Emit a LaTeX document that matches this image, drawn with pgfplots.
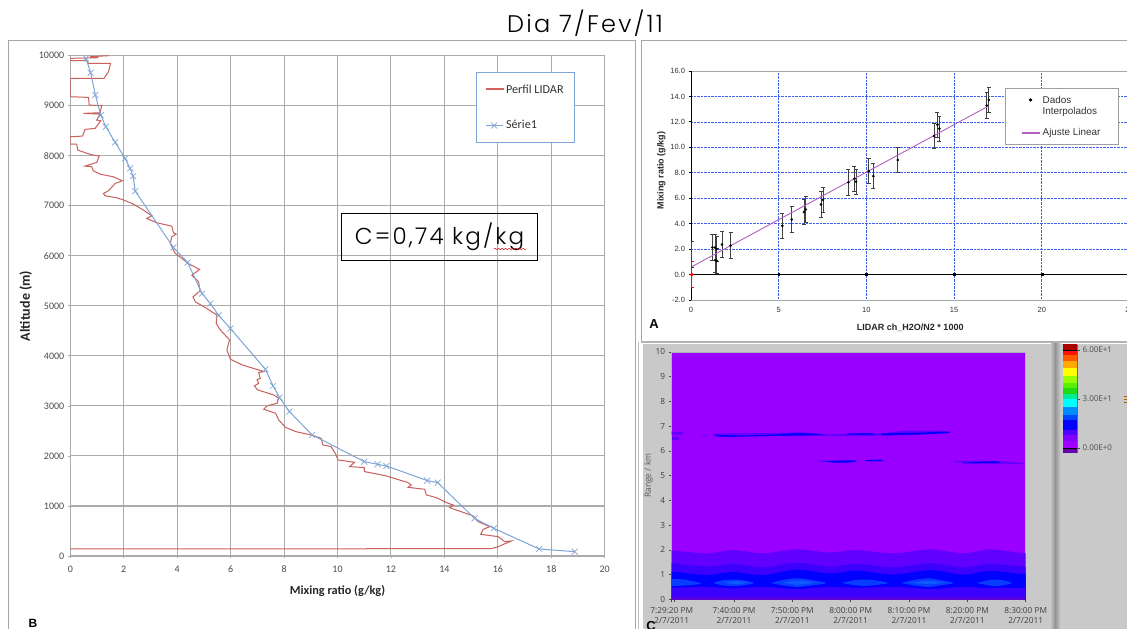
\documentclass[border=0pt]{standalone}
\usepackage{fontspec}
\usepackage{pgfplots}
\pgfplotsset{compat=1.18}
\usetikzlibrary{decorations.pathmorphing}
\setmainfont{Carlito}
\newfontfamily\poppinsf{Poppins}[UprightFont=* Light,LetterSpace=9.5]
\newfontfamily\libf{Liberation Sans}
\newfontfamily\openf{Open Sans}
\definecolor{gridB}{HTML}{ABABAB}
\definecolor{redL}{HTML}{C8605C}
\definecolor{legR}{HTML}{D8605C}
\definecolor{blueL}{HTML}{7FA5D6}
\definecolor{bgC}{HTML}{C9C9C9}
\definecolor{pv}{HTML}{9900FF}
\definecolor{pa}{HTML}{6200FF}
\definecolor{pb}{HTML}{3C00FF}
\definecolor{pc}{HTML}{0000FF}
\definecolor{pd}{HTML}{0A3CFF}
\definecolor{pe}{HTML}{0F5AFF}
\definecolor{pf}{HTML}{5A00D8}
\definecolor{gridA}{HTML}{3F62F0}
\definecolor{fitL}{HTML}{B060C0}
\pgfplotsset{every axis/.append style={scale only axis,anchor=south west}}
\begin{document}
\begin{tikzpicture}[x=1pt,y=1pt]
\clip (0,0) rectangle (1127,629);
\fill[white] (0,0) rectangle (1127,629);
% frames
\draw[gray!70,line width=1pt] (8,0) -- (8,588) -- (635,588) -- (635,0);
\draw[gray!70,line width=1pt] (641,287) -- (641,588) -- (1127,588);
\draw[gray!50,line width=1pt] (638,0) -- (638,287);
\draw[gray!60,line width=1.2pt] (641,287) -- (1127,287);
\fill[bgC] (643,0) rectangle (1127,285);
\shade[left color=gray!50,right color=gray!85] (1051,0) rectangle (1055,285);
\shade[left color=gray!85,right color=gray!40] (1055,0) rectangle (1060.7,285);
\draw[orange!70!black,line width=.6pt] (1124,233) -- (1127,233) (1124,230) -- (1127,230) (1124,227) -- (1127,227);
\node[font=\poppinsf\fontsize{24}{28}\selectfont,anchor=center] at (585,606) {Dia 7/Fev/11};

% PANEL B
\begin{axis}[at={(70.3pt,73pt)},width=534.4pt,height=500.3pt,
  xmin=0,xmax=20,ymin=0,ymax=10000,
  xtick={0,2,...,20},ytick={0,1000,...,10000},
  scaled y ticks=false,
  grid=major,grid style={gridB,line width=1.1pt},
  axis line style={gridB,line width=1.1pt},
  tick style={gridB,line width=.8pt},tick align=outside,tick pos=left,
  major tick length=2.5,
  tick label style={font=\fontsize{10}{12}\selectfont,text=black!70},
  xticklabel style={yshift=-4pt},
  /pgf/number format/assume math mode=true,
  /pgf/number format/1000 sep={},
  xlabel={\bfseries Mixing ratio (g/kg)},ylabel={\bfseries Altitude (m)},
  xlabel style={font=\fontsize{12.3}{14}\selectfont,text=black!85,yshift=-6pt},
  ylabel style={font=\fontsize{14}{16}\selectfont,text=black!85,yshift=0pt},
  legend style={at={(axis cs:15.17,9670)},anchor=north west,draw=blueL,line width=.8pt,
    font=\fontsize{12.2}{14}\selectfont,text=black!80,row sep=22pt,inner xsep=9pt,inner ysep=10pt},
  legend cell align=left]
\addplot[redL,line width=1pt,legend image code/.code={\path (0pt,0pt) -- (18pt,0pt);}] coordinates {
(1.43,10000)(0.74,9980)(1.05,9960)(0,9947)(0,9900)(0.61,9900)(0.68,9847)(1.51,9847)(1.43,9680)(1.26,9547)(0,9547)(0,9180)(0.68,9167)(0.71,9013)(1.18,9000)(1.11,8860)(0.49,8847)(1.11,8833)(0.99,8713)(1.14,8700)(0.93,8547)(0.55,8527)(0.46,8393)(0,8380)(0,8233)(0.24,8233)(0.28,8113)(0.74,8027)(1.08,7993)(0.99,7867)(0.55,7793)(0.8,7780)(0.86,7700)(1.11,7633)(1.61,7580)(1.95,7500)(1.68,7447)(1.43,7300)(1.24,7247)(1.3,7200)(1.74,7160)(2.01,7113)(2.36,7033)(2.74,6913)(3.05,6800)(2.86,6747)(3.24,6660)(3.8,6593)(3.86,6460)(3.96,6433)(3.8,6380)(3.74,6247)(3.93,6047)(4.21,5933)(4.46,5833)(4.84,5727)(4.55,5613)(4.8,5480)(4.86,5300)(4.59,5180)(4.68,5080)(5.11,4947)(5.49,4813)(5.46,4647)(5.61,4520)(5.96,4320)(5.86,4120)(5.99,3933)(6.43,3820)(7.24,3687)(7.05,3667)(7.11,3553)(6.99,3520)(7.05,3453)(6.89,3400)(7.01,3320)(7.61,3220)(7.8,3153)(7.74,3053)(7.36,3000)(7.24,2933)(7.68,2853)(7.8,2720)(8.05,2573)(8.43,2487)(9.01,2420)(9.39,2353)(9.45,2220)(9.76,2187)(9.95,2020)(10.01,1920)(10.64,1873)(10.45,1787)(11.0,1767)(11.01,1687)(11.83,1600)(12.64,1467)(12.76,1420)(12.64,1373)(13.26,1333)(13.33,1220)(13.7,1167)(14.14,1053)(14.33,1020)(14.2,967)(15.08,800)(15.26,687)(15.7,587)(15.45,533)(15.36,433)(16.01,387)(16.26,287)(16.51,300)(16.01,187)(15.76,147)(0,140)};
\addlegendentry{Perfil LIDAR}
\addplot[blueL,line width=1pt,mark=x,mark size=4.2pt,mark options={line width=.7pt}] coordinates {
(0.59,9947)(0.76,9660)(0.94,9213)(1.14,8813)(1.33,8580)(1.68,8267)(2.05,7947)(2.24,7747)(2.35,7593)(2.43,7293)(3.86,6167)(4.39,5867)(4.93,5247)(5.24,5047)(5.55,4813)(5.99,4547)(7.3,3733)(7.59,3400)(7.83,3167)(8.2,2887)(9.05,2420)(11.0,1887)(11.5,1833)(11.83,1800)(13.36,1507)(13.75,1467)(15.13,753)(15.85,553)(17.55,140)(18.88,87)};
\addlegendentry{Série1}
\end{axis}
\draw[legR,line width=1.3pt] (485.5,540) -- (503.5,540);
\node[font=\libf\bfseries\fontsize{12}{14}\selectfont] at (33,6) {B};
\draw[black,line width=.8pt] (341.3,369) rectangle (537.7,415.7);
\node[font=\poppinsf\fontsize{23}{26}\selectfont,anchor=center] at (439.5,392) {C=0,74 kg/kg};
\draw[red!80!black,line width=.5pt,decorate,decoration={snake,amplitude=.7pt,segment length=3.5pt}] (494,380) -- (526,380);

% PANEL A
\begin{axis}[at={(691pt,329pt)},width=438.5pt,height=229pt,
  xmin=0,xmax=25,ymin=-2,ymax=16,
  xtick={0,5,...,25},ytick={-2,0,...,16},
  grid=major,grid style={densely dotted,color=gridA,line width=.7pt},
  axis line style={gray!70,line width=.8pt},
  xtick style={draw=none},ytick style={black,line width=.8pt},
  tick align=outside,tick pos=left,major tick length=2.5,
  tick label style={font=\libf\fontsize{7.5}{9}\selectfont,text=black!80},
  /pgf/number format/assume math mode=true,
  yticklabel style={/pgf/number format/fixed,/pgf/number format/fixed zerofill,/pgf/number format/precision=1},
  xticklabel style={yshift=-1pt},
  xlabel={\bfseries LIDAR ch\_H2O/N2 * 1000},ylabel={\bfseries Mixing ratio (g/kg)},
  xlabel style={font=\libf\fontsize{9}{10}\selectfont,text=black!85,yshift=-5pt},
  ylabel style={font=\libf\fontsize{9}{10}\selectfont,text=black!85,yshift=-2pt,xshift=15pt},
  legend style={at={(axis cs:17.9,14.69)},anchor=north west,draw=gray!75,line width=1pt,
    font=\libf\fontsize{9.9}{11.5}\selectfont,text=black!80,row sep=20pt,inner xsep=16pt,inner ysep=5pt,fill=white},
  legend cell align=left]
\draw[black,line width=1.1pt] (axis cs:0,-2) -- (axis cs:0,16);
\draw[black,line width=1.1pt] (axis cs:0,0) -- (axis cs:25,0);
\addplot[only marks,mark=*,mark size=1.1pt,black,
  error bars/.cd,y dir=both,y fixed=1.0,
  error bar style={black!75,line width=.8pt},
  error mark options={rotate=90,mark size=2pt,black!75,line width=.8pt}] coordinates {
(1.22,2.13)(1.37,2.13)(1.46,2.0)(1.39,1.13)(1.46,1.08)(1.77,2.36)(2.26,2.28)(5.21,3.83)(5.74,4.33)(6.44,4.91)(6.54,5.12)(7.41,5.51)(7.53,5.88)(8.97,7.24)(9.32,7.53)(9.41,7.3)(10.13,8.14)(10.4,7.74)(11.79,9.0)(13.86,10.89)(14.05,11.78)(14.16,11.47)(16.86,13.28)(16.98,13.73)};
\addlegendentry{\begin{tabular}[t]{@{}l@{}}Dados\\Interpolados\end{tabular}}
\addplot[fitL,line width=.9pt,legend image code/.code={\draw[fitL,line width=1.2pt] (0pt,0pt) -- (18pt,0pt);}] coordinates {(0.05,0.62)(16.9,13.2)};
\addlegendentry{Ajuste Linear}
\addplot[forget plot,draw=none,mark=*,mark size=0pt,
  error bars/.cd,y dir=both,y fixed=1.0,
  error bar style={black!75,line width=.8pt},
  error mark options={rotate=90,mark size=2pt,black!75,line width=.8pt}] coordinates {(0.05,1.6)};
\addplot[forget plot,only marks,mark=*,mark size=1.6pt,red,
  error bars/.cd,y dir=both,y fixed=1.0,
  error bar style={red,line width=.8pt},
  error mark options={rotate=90,mark size=2pt,red,line width=.8pt}] coordinates {(0.05,0)};
\addplot[forget plot,only marks,mark=square*,mark size=.9pt,black] coordinates {(5,0)(10,0)(15,0)(20,0)};
\end{axis}
\node[font=\libf\bfseries\fontsize{13}{15}\selectfont] at (654,305) {A};

% PANEL C
\begin{axis}[at={(671.7pt,29.7pt)},width=354pt,height=247.3pt,
  xmin=0,xmax=60.67,ymin=0,ymax=10,
  axis background/.style={fill=pv},
  xtick={0,0.4,10.67,20.67,30.67,40.67,50.67,60.67},
  xticklabels={{7:29:20 PM\\2/7/2011},{},{7:40:00 PM\\2/7/2011},{7:50:00 PM\\2/7/2011},{8:00:00 PM\\2/7/2011},{8:10:00 PM\\2/7/2011},{8:20:00 PM\\2/7/2011},{8:30:00 PM\\2/7/2011}},
  xticklabel style={align=center,font=\openf\fontsize{8.3}{10}\selectfont,text=black!75,yshift=-2pt},
  ytick={0,1,...,10},
  yticklabel style={font=\openf\fontsize{8.3}{10}\selectfont,text=black!75},
  /pgf/number format/assume math mode=true,
  tick style={black!70,line width=.6pt},tick align=outside,tick pos=left,major tick length=3,
  axis line style={gray!60,line width=.5pt},
  ylabel={Range / km},
  ylabel style={font=\openf\fontsize{8.5}{10}\selectfont,text=black!65,yshift=-4pt},
  xlabel={Time},xlabel style={font=\openf\fontsize{7.5}{9}\selectfont,text=black!65,yshift=-6pt},
  ]
\addplot[fill=pa,draw=none,smooth] coordinates {(-4,-2)(-4,1.95)(0,1.97)(6,1.86)(10.57,1.99)(15.71,1.86)(21.43,2.02)(27.14,1.89)(31.71,1.99)(38,1.86)(44.29,2.02)(50,1.86)(54.57,2.02)(60.67,1.86)(65,1.9)(65,-2)} --cycle;
\addplot[fill=pb,draw=none,smooth] coordinates {(-4,-2)(-4,1.45)(0,1.46)(6,1.32)(10.57,1.43)(15.71,1.29)(21.43,1.48)(27.14,1.32)(31.71,1.43)(38,1.29)(44.29,1.46)(50,1.29)(54.57,1.43)(60.67,1.32)(65,1.35)(65,-2)} --cycle;
\addplot[fill=pc,draw=none,smooth] coordinates {(-4,-2)(-4,1.12)(0,1.12)(6,0.98)(10.57,1.1)(15.71,0.98)(21.43,1.2)(27.14,1.04)(31.71,1.16)(38,1.0)(44.29,1.18)(50,1.0)(54.57,1.15)(60.67,1.02)(65,1.05)(65,-2)} --cycle;
\addplot[fill=pb,draw=none,smooth] coordinates {(-4,-2)(-4,0.47)(0,0.47)(6,0.5)(10.57,0.44)(15.71,0.5)(21.43,0.42)(27.14,0.5)(31.71,0.46)(38,0.5)(44.29,0.42)(50,0.5)(54.57,0.45)(60.67,0.47)(65,0.47)(65,-2)} --cycle;
\addplot[fill=pf,draw=none] coordinates {(-4,-1)(-4,0.09)(65,0.09)(65,-1)} --cycle;
% bright lenses near 0.7 km
\addplot[fill=pd,draw=none,smooth] coordinates {(-1,0.82)(2,0.8)(5,0.64)(2,0.55)(-1,0.55)} --cycle;
\addplot[fill=pd,draw=none,smooth] coordinates {(7.1,0.66)(8.5,0.76)(10.5,0.8)(12.5,0.76)(14.1,0.66)(12.5,0.57)(10.5,0.53)(8.5,0.57)} --cycle;
\addplot[fill=pd,draw=none,smooth] coordinates {(17,0.66)(19,0.78)(21.5,0.85)(24,0.78)(26.5,0.66)(24,0.56)(21.5,0.5)(19,0.56)} --cycle;
\addplot[fill=pd,draw=none,smooth] coordinates {(29.1,0.66)(31,0.76)(33,0.8)(35,0.76)(37.1,0.66)(35,0.58)(33,0.54)(31,0.58)} --cycle;
\addplot[fill=pd,draw=none,smooth] coordinates {(39.3,0.66)(41.5,0.78)(44,0.85)(46,0.78)(48.3,0.66)(46,0.56)(44,0.5)(41.5,0.56)} --cycle;
\addplot[fill=pd,draw=none,smooth] coordinates {(52.3,0.66)(54,0.76)(55.5,0.8)(57,0.76)(58.3,0.66)(57,0.58)(55.5,0.53)(54,0.58)} --cycle;
\addplot[fill=pe,draw=none,smooth] coordinates {(19,0.67)(21.5,0.76)(24.5,0.67)(21.5,0.58)} --cycle;
\addplot[fill=pe,draw=none,smooth] coordinates {(41,0.67)(44,0.75)(46.5,0.67)(44,0.6)} --cycle;
\addplot[fill=pe,draw=none,smooth] coordinates {(9,0.67)(11,0.74)(13,0.67)(11,0.6)} --cycle;
% cloud layers
\addplot[fill=pa,draw=none] coordinates {(0,6.78)(2,6.75)(2,6.66)(0,6.66)} --cycle;
\addplot[fill=pa,draw=none] coordinates {(0,6.55)(1.2,6.55)(1.2,6.45)(0,6.45)} --cycle;
\addplot[fill=pa,draw=none] coordinates {(5,6.66)(6,6.66)(6,6.6)(5,6.6)} --cycle;
\addplot[fill=pa,draw=none,smooth] coordinates {(7.1,6.7)(16,6.72)(22,6.75)(27,6.68)(32,6.72)(37,6.72)(37.5,6.76)(41,6.82)(47,6.8)(47.3,6.72)(40,6.64)(34,6.6)(26,6.6)(16,6.6)(10,6.56)(7.1,6.6)} --cycle;
\addplot[fill=pc,draw=none,smooth] coordinates {(7.5,6.65)(12,6.62)(17,6.66)(22,6.72)(26,6.66)(22,6.62)(16,6.6)(10,6.57)(7.5,6.6)} --cycle;
\addplot[fill=pc,draw=none,smooth] coordinates {(30,6.7)(34,6.72)(34.4,6.66)(30,6.66)} --cycle;
\addplot[fill=pc,draw=none,smooth] coordinates {(36,6.71)(42,6.74)(47,6.78)(47.2,6.72)(42,6.66)(36,6.64)} --cycle;
\addplot[fill=pa,draw=none,smooth] coordinates {(24.3,5.6)(30,5.62)(31.5,5.58)(30,5.5)(26,5.56)} --cycle;
\addplot[fill=pc,draw=none,smooth] coordinates {(26,5.58)(31.3,5.62)(31.3,5.56)(28,5.52)} --cycle;
\addplot[fill=pc,draw=none,smooth] coordinates {(33.2,5.62)(36,5.65)(36,5.58)(33.2,5.58)} --cycle;
\addplot[fill=pa,draw=none,smooth] coordinates {(48.3,5.6)(55,5.6)(58,5.55)(60,5.52)(60,5.47)(55,5.48)(48.3,5.54)} --cycle;
\addplot[fill=pc,draw=none,smooth] coordinates {(50,5.52)(55,5.58)(56,5.52)(50,5.49)} --cycle;
\end{axis}
\node[font=\libf\bfseries\fontsize{13}{15}\selectfont] at (651,3) {C};

% colour scale
\begin{axis}[at={(1063pt,176.3pt)},width=14pt,height=107.7pt,
  xmin=0,xmax=1,ymin=-2.9,ymax=63.1,
  xtick=\empty,ytick={0,30,60},
  yticklabels={0.00E+0,3.00E+1,6.00E+1},
  ytick pos=right,tick align=outside,major tick length=3,
  tick style={black!70,line width=.6pt},
  yticklabel style={font=\openf\fontsize{8}{10}\selectfont,text=black!70,xshift=-1pt},
  axis line style={gray!80!black,line width=.7pt}]
\addplot[fill={rgb,255:red,100;green,0;blue,170},draw=none] coordinates {(0,-3)(1,-3)(1,0)(0,0)} --cycle;
\addplot[fill={rgb,255:red,160;green,0;blue,255},draw=none] coordinates {(0,0)(1,0)(1,4)(0,4)} --cycle;
\addplot[fill={rgb,255:red,130;green,0;blue,255},draw=none] coordinates {(0,4)(1,4)(1,8)(0,8)} --cycle;
\addplot[fill={rgb,255:red,80;green,0;blue,255},draw=none] coordinates {(0,8)(1,8)(1,11)(0,11)} --cycle;
\addplot[fill={rgb,255:red,0;green,0;blue,255},draw=none] coordinates {(0,11)(1,11)(1,17)(0,17)} --cycle;
\addplot[fill={rgb,255:red,0;green,70;blue,255},draw=none] coordinates {(0,17)(1,17)(1,20)(0,20)} --cycle;
\addplot[fill={rgb,255:red,0;green,140;blue,255},draw=none] coordinates {(0,20)(1,20)(1,25)(0,25)} --cycle;
\addplot[fill={rgb,255:red,0;green,255;blue,255},draw=none] coordinates {(0,25)(1,25)(1,30)(0,30)} --cycle;
\addplot[fill={rgb,255:red,0;green,235;blue,150},draw=none] coordinates {(0,30)(1,30)(1,33)(0,33)} --cycle;
\addplot[fill={rgb,255:red,30;green,220;blue,20},draw=none] coordinates {(0,33)(1,33)(1,37)(0,37)} --cycle;
\addplot[fill={rgb,255:red,90;green,240;blue,0},draw=none] coordinates {(0,37)(1,37)(1,40)(0,40)} --cycle;
\addplot[fill={rgb,255:red,150;green,255;blue,0},draw=none] coordinates {(0,40)(1,40)(1,44)(0,44)} --cycle;
\addplot[fill={rgb,255:red,255;green,255;blue,0},draw=none] coordinates {(0,44)(1,44)(1,49)(0,49)} --cycle;
\addplot[fill={rgb,255:red,255;green,170;blue,0},draw=none] coordinates {(0,49)(1,49)(1,53)(0,53)} --cycle;
\addplot[fill={rgb,255:red,255;green,90;blue,0},draw=none] coordinates {(0,53)(1,53)(1,57)(0,57)} --cycle;
\addplot[fill={rgb,255:red,255;green,20;blue,0},draw=none] coordinates {(0,57)(1,57)(1,60)(0,60)} --cycle;
\addplot[fill={rgb,255:red,170;green,0;blue,0},draw=none] coordinates {(0,60)(1,60)(1,64)(0,64)} --cycle;
\addplot[black,line width=.8pt] coordinates {(0,60)(1,60)};
\addplot[black,line width=.8pt] coordinates {(0,0)(1,0)};
\end{axis}
\end{tikzpicture}
\end{document}
